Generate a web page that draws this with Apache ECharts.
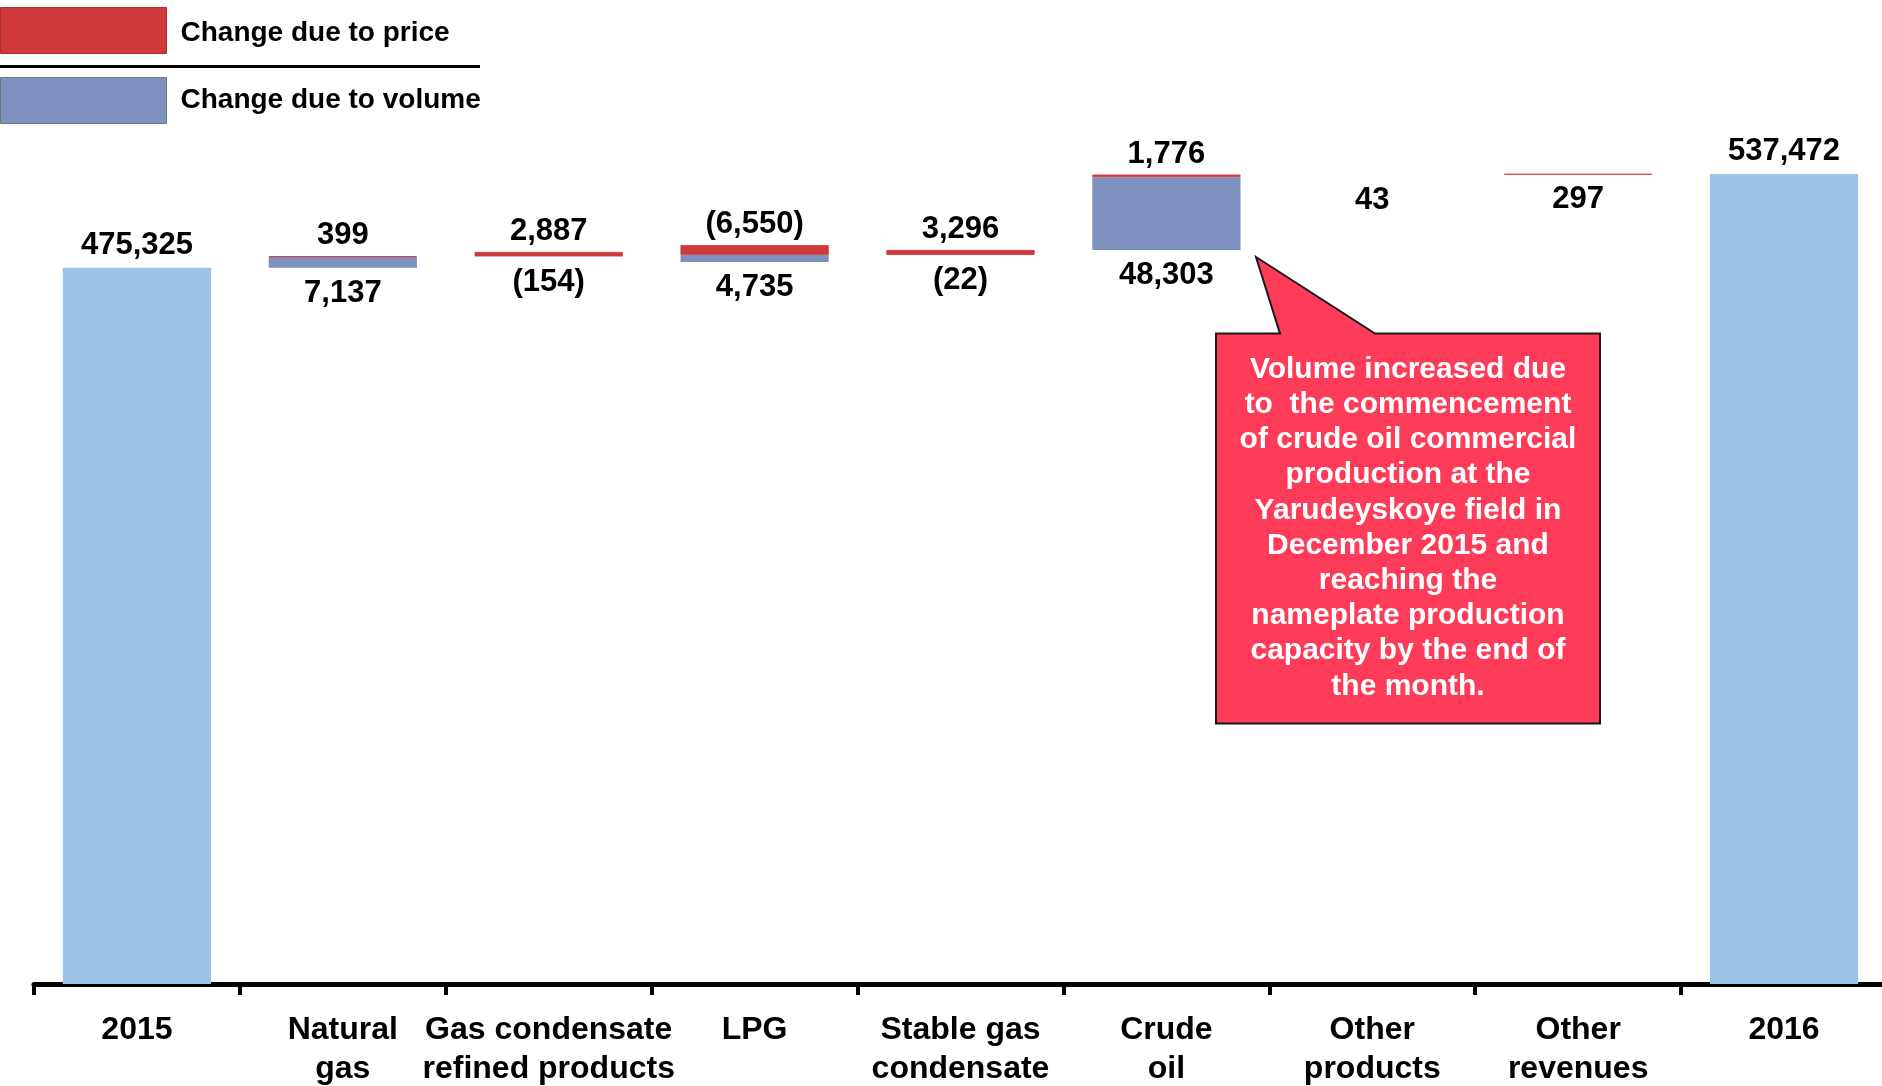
<!DOCTYPE html>
<html><head><meta charset="utf-8">
<script src="https://cdn.jsdelivr.net/npm/echarts@6/dist/echarts.min.js"></script>
<style>html,body{margin:0;padding:0;background:#fff}#c{width:1882px;height:1086px}</style>
</head><body><div id="c"></div>
<script>
const categories = ['2015','Natural\ngas','Gas condensate\nrefined products','LPG','Stable gas\ncondensate','Crude\noil','Other\nproducts','Other\nrevenues','2016'];
const totalValues = [475325,null,null,null,null,null,null,null,537472];
const priceChange = [null,399,2887,-6550,3296,1776,null,297,null];
const volumeChange = [null,7137,-154,4735,-22,48303,43,null,null];
const seriesNames = ['Change due to price','Change due to volume'];
const calloutLines = [
  'Volume increased due',
  'to  the commencement',
  'of crude oil commercial',
  'production at the',
  'Yarudeyskoye field in',
  'December 2015 and',
  'reaching the',
  'nameplate production',
  'capacity by the end of',
  'the month.'
];

const FONT = '"Liberation Sans", Arial, sans-serif';
const base = [], vol = [], price = [], tot = [];
let running = totalValues[0];
categories.forEach((c, i) => {
  if (totalValues[i] != null) { base.push(null); vol.push(null); price.push(null); tot.push(totalValues[i]); return; }
  const p = priceChange[i], v = volumeChange[i];
  const pp = p == null ? 0 : p, vv = v == null ? 0 : v;
  base.push(running + Math.min(pp, 0) + Math.min(vv, 0));
  vol.push(v == null ? null : Math.abs(v));
  price.push(p == null ? null : Math.abs(p));
  tot.push(null);
  running += pp + vv;
});
const fmt = n => n < 0 ? '(' + Math.abs(n).toLocaleString('en-US') + ')' : n.toLocaleString('en-US');
const labelStyle = { color: '#000', fontFamily: FONT, fontWeight: 'bold', fontSize: 31 };
const legendCommon = {
  orient: 'vertical', left: 0, padding: 0, itemWidth: 166, itemHeight: 46, icon: 'rect', selectedMode: false
};
const legendText = (padTop) => ({
  color: '#000', fontFamily: FONT, fontWeight: 'bold', fontSize: 28,
  rich: { t: { color: '#000', fontFamily: FONT, fontWeight: 'bold', fontSize: 28, padding: [padTop, 0, 0, 9] } }
});

const chart = echarts.init(document.getElementById('c'), null, { renderer: 'canvas' });
chart.setOption({
  animation: false,
  backgroundColor: '#fff',
  legend: [
    Object.assign({}, legendCommon, {
      top: 7, formatter: '{t|{name}}', textStyle: legendText(5),
      data: [{ name: seriesNames[0], itemStyle: { borderColor: '#a83030', borderWidth: 1 } }]
    }),
    Object.assign({}, legendCommon, {
      top: 77, formatter: '{t|{name}}', textStyle: legendText(0),
      data: [{ name: seriesNames[1], itemStyle: { borderColor: '#62806a', borderWidth: 1 } }]
    })
  ],
  grid: { left: 34, width: 1853, top: 174, bottom: 102, containLabel: false, outerBoundsMode: 'none' },
  xAxis: {
    type: 'category', data: categories, offset: 2.5,
    axisLine: { lineStyle: { color: '#000', width: 5 } },
    axisTick: { show: true, length: 11, lineStyle: { color: '#000', width: 4 } },
    axisLabel: { interval: 0, margin: 24, color: '#000', fontFamily: FONT, fontWeight: 'bold', fontSize: 32, lineHeight: 39 },
    splitLine: { show: false }
  },
  yAxis: { type: 'value', min: 0, max: totalValues[8], show: false, splitLine: { show: false } },
  series: [
    {
      name: 'base', type: 'bar', stack: 'w', barWidth: '72%', data: base, silent: true,
      itemStyle: { color: 'rgba(0,0,0,0)' },
      label: {
        show: true, position: 'insideTop', distance: 10, ...labelStyle,
        formatter: p => {
          const i = p.dataIndex;
          if (volumeChange[i] != null) return fmt(volumeChange[i]);
          if (priceChange[i] != null) return fmt(priceChange[i]);
          return '';
        }
      }
    },
    {
      name: 'total', type: 'bar', stack: 'w', barWidth: '72%', data: tot,
      itemStyle: { color: '#9dc3e6' },
      label: { show: true, position: 'top', distance: 7, ...labelStyle, formatter: p => fmt(p.value) }
    },
    {
      name: seriesNames[1], type: 'bar', stack: 'w', barWidth: '72%', data: vol,
      itemStyle: { color: '#7f92bf' }
    },
    {
      name: seriesNames[0], type: 'bar', stack: 'w', barWidth: '72%', data: price,
      itemStyle: { color: '#d0393b', borderColor: '#d0393b', borderWidth: 0.8 },
      label: {
        show: true, position: 'top', distance: 5, ...labelStyle,
        formatter: p => {
          const i = p.dataIndex;
          return (priceChange[i] != null && volumeChange[i] != null) ? fmt(priceChange[i]) : '';
        }
      }
    }
  ],
  graphic: [
    { type: 'line', shape: { x1: 0, y1: 66.5, x2: 480, y2: 66.5 }, style: { stroke: '#000', lineWidth: 3 }, silent: true },
    {
      type: 'polygon', silent: true,
      shape: { points: [[1216,333.5],[1280,333.5],[1256,257],[1375,333.5],[1600,333.5],[1600,723.5],[1216,723.5]] },
      style: { fill: '#ff3b5a', stroke: '#1a1a1a', lineWidth: 2 }
    },
    {
      type: 'text', silent: true, x: 1408, y: 352,
      style: { text: calloutLines.join('\n'), fill: '#fff', font: 'bold 30px ' + FONT, align: 'center', verticalAlign: 'top', lineHeight: 35.2 }
    }
  ]
});
</script></body></html>
